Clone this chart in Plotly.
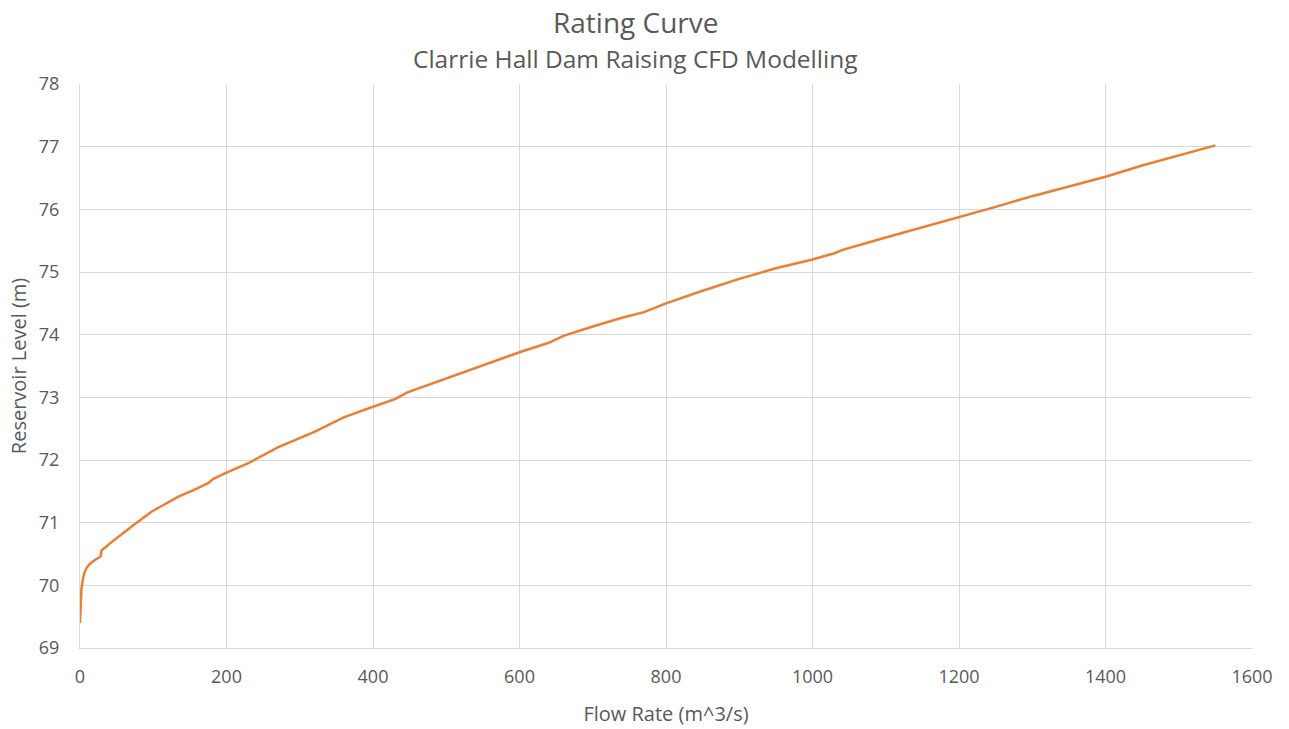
import plotly.graph_objects as go

# Flow rate (m^3/s) against reservoir level (m)
flow_rate = [0, 0.5, 1, 2, 4, 6, 9, 14, 20, 26, 28, 29.5, 32, 36, 41, 48, 56, 64, 75, 86,
             97, 109, 122, 135, 155, 175, 182, 200, 230, 270, 320, 360, 400, 430,
             447, 500, 550, 600, 640, 660, 700, 740, 770, 800, 850, 900, 950,
             1000, 1030, 1040, 1100, 1150, 1200, 1250, 1300, 1350, 1400, 1450,
             1500, 1550]
reservoir_level = [69.40, 69.55, 69.75, 69.95, 70.10, 70.20, 70.28, 70.35, 70.40, 70.44,
                   70.46, 70.56, 70.58, 70.62, 70.67, 70.73, 70.80, 70.88, 70.98, 71.08,
                   71.17, 71.25, 71.33, 71.42, 71.52, 71.63, 71.70, 71.80, 71.95,
                   72.20, 72.45, 72.68, 72.85, 72.97, 73.08, 73.30, 73.52, 73.72,
                   73.87, 73.98, 74.13, 74.27, 74.36, 74.50, 74.70, 74.89, 75.06,
                   75.20, 75.30, 75.35, 75.55, 75.71, 75.87, 76.04, 76.21, 76.36,
                   76.52, 76.70, 76.86, 77.02]

x_ticks = [0, 200, 400, 600, 800, 1000, 1200, 1400, 1600]
y_ticks = [69, 70, 71, 72, 73, 74, 75, 76, 77, 78]

title_text = "Rating Curve"
subtitle_text = "Clarrie Hall Dam Raising CFD Modelling"

text_grey = "#595959"
grid_grey = "#d9d9d9"
font_family = "Open Sans, Noto Sans, sans-serif"

fig = go.Figure()
fig.add_trace(go.Scatter(
    x=flow_rate,
    y=reservoir_level,
    mode="lines",
    line=dict(color="#ED7D31", width=2.5, shape="linear"),
    showlegend=False,
))

# Title and subtitle centred over the whole chart (not just the plot area)
fig.add_annotation(text=title_text, xref="paper", yref="paper", x=0.474, y=1.11,
                   xanchor="center", yanchor="middle", showarrow=False,
                   font=dict(size=28, color=text_grey, family=font_family))
fig.add_annotation(text=subtitle_text, xref="paper", yref="paper", x=0.474, y=1.046,
                   xanchor="center", yanchor="middle", showarrow=False,
                   font=dict(size=24.5, color=text_grey, family=font_family))

fig.update_layout(
    width=1289,
    height=729,
    margin=dict(l=80, r=37, t=84, b=81),
    paper_bgcolor="white",
    plot_bgcolor="white",
    font=dict(family=font_family, color=text_grey, size=18),
    xaxis=dict(
        range=[0, 1600],
        tickvals=x_ticks,
        showgrid=True,
        gridcolor=grid_grey,
        gridwidth=1,
        zeroline=False,
        showline=True,
        linecolor=grid_grey,
        linewidth=1,
        ticks="",
        automargin=False,
        ticklabelstandoff=12,
        tickfont=dict(size=18, color=text_grey),
        title=dict(text="Flow Rate (m^3/s)", font=dict(size=20, color=text_grey), standoff=20),
    ),
    yaxis=dict(
        range=[69, 78],
        tickvals=y_ticks,
        showgrid=True,
        gridcolor=grid_grey,
        gridwidth=1,
        zeroline=False,
        showline=True,
        linecolor=grid_grey,
        linewidth=1,
        ticks="",
        automargin=False,
        ticklabelstandoff=16,
        tickfont=dict(size=18, color=text_grey),
        title=dict(text="Reservoir Level (m)", font=dict(size=20, color=text_grey), standoff=6),
    ),
)

fig.write_html("out.html")
